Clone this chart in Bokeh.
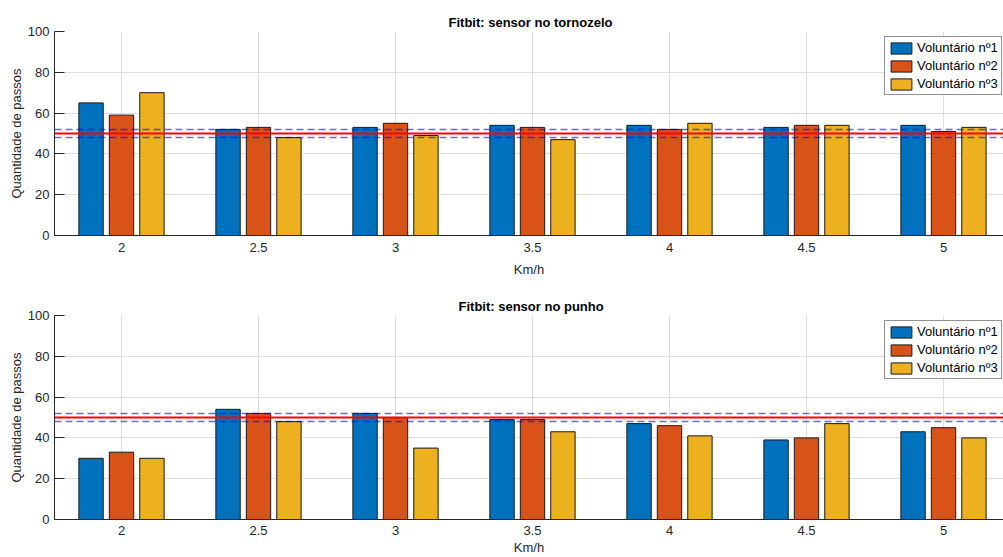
from bokeh.plotting import figure
from bokeh.models import ColumnDataSource, Span, Legend, LegendItem, FixedTicker, Range1d
from bokeh.transform import dodge
from bokeh.layouts import column
from bokeh.embed import file_html
from bokeh.resources import INLINE

# ---- data ----
velocidades = [2, 2.5, 3, 3.5, 4, 4.5, 5]
tick_labels = ["2", "2.5", "3", "3.5", "4", "4.5", "5"]
tornozelo_v1 = [65, 52, 53, 54, 54, 53, 54]
tornozelo_v2 = [59, 53, 55, 53, 52, 54, 51]
tornozelo_v3 = [70, 48, 49, 47, 55, 54, 53]
punho_v1 = [30, 54, 52, 49, 47, 39, 43]
punho_v2 = [33, 52, 50, 49, 46, 40, 45]
punho_v3 = [30, 48, 35, 43, 41, 47, 40]
series_names = ["Voluntário nº1", "Voluntário nº2", "Voluntário nº3"]
series_colors = ["#0072BD", "#D95319", "#EDB120"]
meta = 50
tolerancia = [48, 52]
y_ticks = [0, 20, 40, 60, 80, 100]

FONT = "Liberation Sans"
AX = "#262626"
GRID = "#dedede"


def make_plot(title, title_offset, v1, v2, v3, height, border_top, border_bottom,
              xlab_standoff, xaxis_standoff):
    src = ColumnDataSource(dict(x=velocidades, v1=v1, v2=v2, v3=v3))
    p = figure(width=1003, height=height, output_backend="svg", toolbar_location=None,
               x_range=Range1d(1.7555, 5.219), y_range=Range1d(0, 100),
               min_border_left=54, min_border_right=0,
               min_border_top=border_top, min_border_bottom=border_bottom)
    p.outline_line_color = None
    p.background_fill_color = "white"
    p.border_fill_color = "white"

    p.title.text = title
    p.title.align = "left"
    p.title.offset = title_offset
    p.title.text_font = FONT
    p.title.text_font_size = "13px"
    p.title.text_font_style = "bold"
    p.title.text_color = "black"
    p.title.standoff = 4

    p.xaxis.ticker = FixedTicker(ticks=velocidades)
    p.xaxis.major_label_overrides = {v: l for v, l in zip(velocidades, tick_labels)}
    p.yaxis.ticker = FixedTicker(ticks=y_ticks)
    for ax in (p.xaxis, p.yaxis):
        ax.axis_line_color = AX
        ax.major_tick_line_color = AX
        ax.minor_tick_line_color = None
        ax.major_label_text_font = FONT
        ax.major_label_text_font_size = "13px"
        ax.major_label_text_color = AX
        ax.axis_label_text_font = FONT
        ax.axis_label_text_font_size = "13px"
        ax.axis_label_text_font_style = "normal"
        ax.axis_label_text_color = AX
        ax.major_tick_out = 0
    p.xaxis.major_tick_in = 0
    p.yaxis.major_tick_in = 10
    p.xaxis.axis_label = "Km/h"
    p.yaxis.axis_label = "Quantidade de passos"
    p.xaxis.major_label_standoff = xlab_standoff
    p.xaxis.axis_label_standoff = xaxis_standoff
    p.yaxis.major_label_standoff = 5
    p.yaxis.axis_label_standoff = 1

    p.xgrid.ticker = FixedTicker(ticks=velocidades)
    p.ygrid.ticker = FixedTicker(ticks=y_ticks)
    p.grid.grid_line_color = GRID
    p.grid.grid_line_width = 1

    offsets = [-1 / 9, 0, 1 / 9]
    renderers = []
    for col, off, color in zip(["v1", "v2", "v3"], offsets, series_colors):
        r = p.vbar(x=dodge("x", off, range=p.x_range), top=col, width=0.0889, bottom=0,
                   source=src, fill_color=color, line_color="#1a1a1a", line_width=1)
        renderers.append(r)

    for t in tolerancia:
        p.add_layout(Span(location=t, dimension="width", line_color="#0000ff",
                          line_alpha=0.6, line_width=1.5, line_dash="7 4"))
    p.add_layout(Span(location=meta, dimension="width", line_color="#ff0000", line_width=2))

    legend = Legend(items=[LegendItem(label=n, renderers=[r]) for n, r in zip(series_names, renderers)],
                    location=(830, 140), margin=0, padding=3, spacing=3,
                    glyph_width=26, glyph_height=14, label_height=14, label_standoff=3,
                    label_text_font=FONT, label_text_font_size="13px", label_text_color="black",
                    border_line_color=AX, border_line_width=1, background_fill_alpha=1)
    p.add_layout(legend, "center")
    return p


p1 = make_plot("Fitbit: sensor no tornozelo", 394, tornozelo_v1, tornozelo_v2, tornozelo_v3,
               282, 31, 47, 7, 7)
p2 = make_plot("Fitbit: sensor no punho", 404, punho_v1, punho_v2, punho_v3,
               275, 33, 38, 6, 2)

layout = column(p1, p2, spacing=0)
open("out.html", "w").write(file_html(layout, INLINE))
